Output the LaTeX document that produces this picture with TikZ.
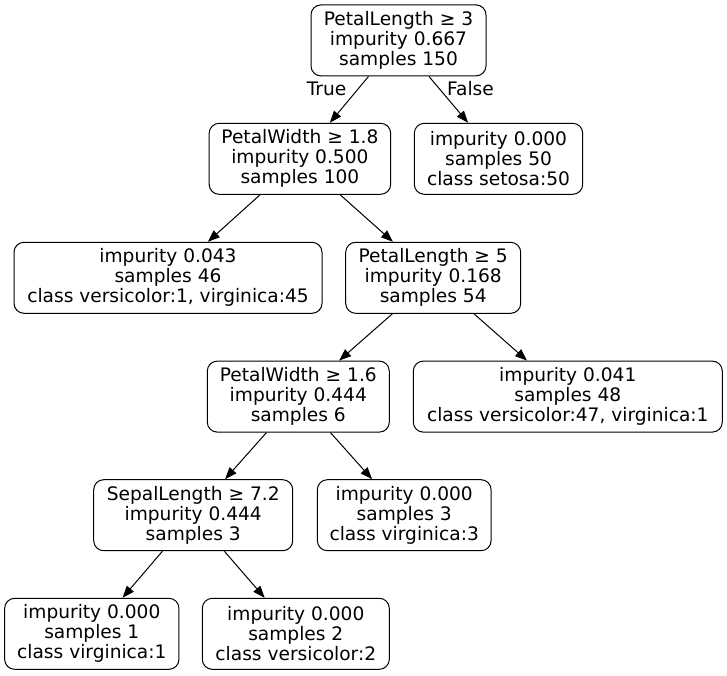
\documentclass[tikz,border=0pt]{standalone}
\usepackage{fontspec}
\setmainfont{DejaVu Sans}
\usetikzlibrary{arrows.meta}
\begin{document}
\begin{tikzpicture}[x=1pt,y=-1pt,
  tnode/.style={draw=black, line width=1pt, rounded corners=10pt, align=center,
    inner sep=0pt, minimum height=71pt, font=\fontsize{18.6}{20}\selectfont},
  edge/.style={line width=1pt, -{Triangle[length=12pt,width=9pt]}},
  elabel/.style={font=\fontsize{18.6}{20}\selectfont, inner sep=0pt}]
\useasboundingbox (0,0) rectangle (727,675);
\node[tnode, minimum width=175pt] (root) at (398.5,40.4) {PetalLength ≥ 3\\impurity 0.667\\samples 150};
\node[tnode, minimum width=181.5pt] (n2) at (299.9,158.8) {PetalWidth ≥ 1.8\\impurity 0.500\\samples 100};
\node[tnode, minimum width=168.4pt] (n3) at (498.5,158.8) {impurity 0.000\\samples 50\\class setosa:50};
\node[tnode, minimum width=308pt] (n4) at (168,277.8) {impurity 0.043\\samples 46\\class versicolor:1, virginica:45};
\node[tnode, minimum width=175pt] (n5) at (433.2,277.8) {PetalLength ≥ 5\\impurity 0.168\\samples 54};
\node[tnode, minimum width=182pt] (n6) at (298.3,396.6) {PetalWidth ≥ 1.6\\impurity 0.444\\samples 6};
\node[tnode, minimum width=309pt] (n7) at (567.8,396.6) {impurity 0.041\\samples 48\\class versicolor:47, virginica:1};
\node[tnode, minimum width=199pt] (n8) at (193.2,515.2) {SepalLength ≥ 7.2\\impurity 0.444\\samples 3};
\node[tnode, minimum width=173.7pt] (n9) at (404.2,515.2) {impurity 0.000\\samples 3\\class virginica:3};
\node[tnode, minimum width=174.3pt] (n10) at (91.8,633.8) {impurity 0.000\\samples 1\\class virginica:1};
\node[tnode, minimum width=187pt] (n11) at (295.8,633.8) {impurity 0.000\\samples 2\\class versicolor:2};
\draw[edge] (root) -- (n2);
\draw[edge] (root) -- (n3);
\draw[edge] (n2) -- (n4);
\draw[edge] (n2) -- (n5);
\draw[edge] (n5) -- (n6);
\draw[edge] (n5) -- (n7);
\draw[edge] (n6) -- (n8);
\draw[edge] (n6) -- (n9);
\draw[edge] (n8) -- (n10);
\draw[edge] (n8) -- (n11);
\node[elabel] (ltrue) at (326.5,89) {True};
\node[elabel] (lfalse) at (470.5,89) {False};
\end{tikzpicture}
\end{document}
